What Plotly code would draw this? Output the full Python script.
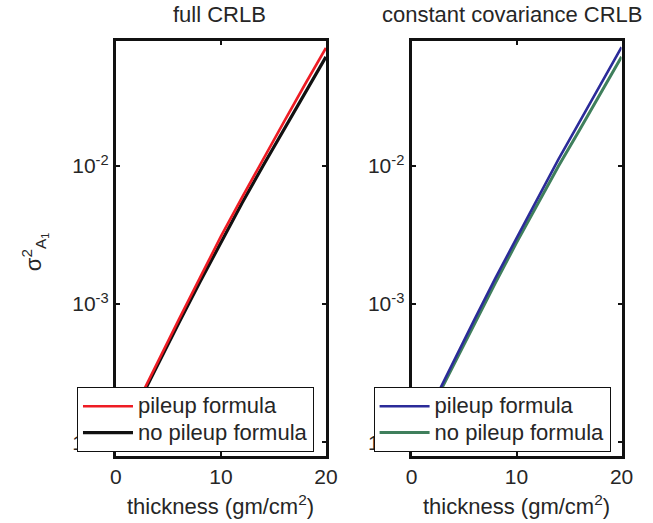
import plotly.graph_objects as go

# ---- data ----
thickness = [0, 2, 4, 6, 8, 10, 12, 14, 16, 18, 20]

full_pileup = [9.33e-5, 1.905e-4, 3.89e-4, 7.76e-4, 1.549e-3, 3.09e-3,
               5.89e-3, 1.122e-2, 2.089e-2, 3.89e-2, 7.16e-2]
full_nopileup = [9.12e-5, 1.841e-4, 3.715e-4, 7.33e-4, 1.445e-3, 2.818e-3,
                 5.37e-3, 1.0e-2, 1.82e-2, 3.39e-2, 6.17e-2]

const_pileup = [9.33e-5, 1.905e-4, 3.89e-4, 7.76e-4, 1.549e-3, 3.02e-3,
                5.89e-3, 1.122e-2, 2.089e-2, 3.89e-2, 7.24e-2]
const_nopileup = [9.12e-5, 1.82e-4, 3.67e-4, 7.24e-4, 1.429e-3, 2.786e-3,
                  5.31e-3, 1.0e-2, 1.82e-2, 3.35e-2, 6.17e-2]

x_ticks = [0, 10, 20]
y_ticks = [1e-4, 1e-3, 1e-2]
y_ticktext = ["10<sup>-4</sup>", "10<sup>-3</sup>", "10<sup>-2</sup>"]

panel_titles = ["full CRLB", "constant covariance CRLB"]
legend_names = ["pileup formula", "no pileup formula"]
x_label = "thickness (gm/cm<sup>2</sup>)"
y_label = "σ<sup>2</sup><sub>A<sub>1</sub></sub>"

FONT = "Liberation Sans, Arial, Helvetica, sans-serif"
TXT = "#262626"
W, H = 653, 523

def px(x):
    return x / W

def py(y):
    return 1 - y / H

def leg(name):
    # larger glyphs than the legend's nominal font, so rows stay tightly spaced
    return '<span style="font-size:22px">' + name + '</span>'

fig = go.Figure()

# left panel: black below, red on top
fig.add_trace(go.Scatter(x=thickness, y=full_nopileup, mode="lines", name=leg(legend_names[1]),
                         line=dict(color="#111111", width=3.2), xaxis="x", yaxis="y",
                         legend="legend", legendrank=2))
fig.add_trace(go.Scatter(x=thickness, y=full_pileup, mode="lines", name=leg(legend_names[0]),
                         line=dict(color="#ee1c24", width=2.6), xaxis="x", yaxis="y",
                         legend="legend", legendrank=1))
# right panel
fig.add_trace(go.Scatter(x=thickness, y=const_nopileup, mode="lines", name=leg(legend_names[1]),
                         line=dict(color="#3f7f5c", width=3.0), xaxis="x2", yaxis="y2",
                         legend="legend2", legendrank=2))
fig.add_trace(go.Scatter(x=thickness, y=const_pileup, mode="lines", name=leg(legend_names[0]),
                         line=dict(color="#2b2b99", width=2.6), xaxis="x2", yaxis="y2",
                         legend="legend2", legendrank=1))

ybot, ytop = py(456), py(41)
dom_left = [px(113), px(329)]
dom_right = [px(417), px(633)]

def xax(domain, anchor):
    return dict(domain=domain, anchor=anchor, range=[0, 20], tickvals=x_ticks,
                ticks="inside", ticklen=4, tickwidth=2, tickcolor="#111",
                showline=True, linecolor="#111", linewidth=3, mirror="ticks",
                showgrid=False, zeroline=False,
                tickfont=dict(family=FONT, size=21, color=TXT))

def yax(anchor):
    return dict(domain=[ybot, ytop], anchor=anchor, type="log", range=[-4.1, -1.095],
                tickvals=y_ticks, ticktext=y_ticktext,
                ticks="inside", ticklen=4, tickwidth=2, tickcolor="#111",
                showline=True, linecolor="#111", linewidth=3, mirror="ticks",
                showgrid=False, zeroline=False,
                tickfont=dict(family=FONT, size=21, color=TXT))

leg_common = dict(bgcolor="white", bordercolor="#111", borderwidth=1,
                  font=dict(family=FONT, size=18, color=TXT),
                  xanchor="left", yanchor="top", tracegroupgap=0, itemwidth=50)

fig.update_layout(
    width=W, height=H,
    margin=dict(l=0, r=0, t=0, b=0),
    paper_bgcolor="white", plot_bgcolor="white",
    font=dict(family=FONT, size=21, color=TXT),
    xaxis=xax(dom_left, "y"),
    yaxis=yax("x"),
    xaxis2=xax(dom_right, "y2"),
    yaxis2=yax("x2"),
    legend=dict(x=px(73), y=py(387), **leg_common),
    legend2=dict(x=px(378), y=py(387), **leg_common),
    showlegend=True,
)

annos = [
    dict(text=panel_titles[0], x=px(220), y=py(15)),
    dict(text=panel_titles[1], x=px(520), y=py(15)),
    dict(text=x_label, x=px(221), y=py(505)),
    dict(text=x_label, x=px(525), y=py(505)),
]
for a in annos:
    fig.add_annotation(xref="paper", yref="paper", showarrow=False,
                       xanchor="center", yanchor="middle",
                       font=dict(family=FONT, size=22, color=TXT), **a)
fig.add_annotation(xref="paper", yref="paper", showarrow=False, text=y_label,
                   x=px(30), y=py(252), xanchor="center", yanchor="middle",
                   textangle=-90, font=dict(family=FONT, size=22, color=TXT))

# remove the default 8px page margin so the figure fills the window exactly
fig.write_html("out.html", config={"displayModeBar": False},
               post_script="document.body.style.margin='0px';document.body.style.overflow='hidden';")
